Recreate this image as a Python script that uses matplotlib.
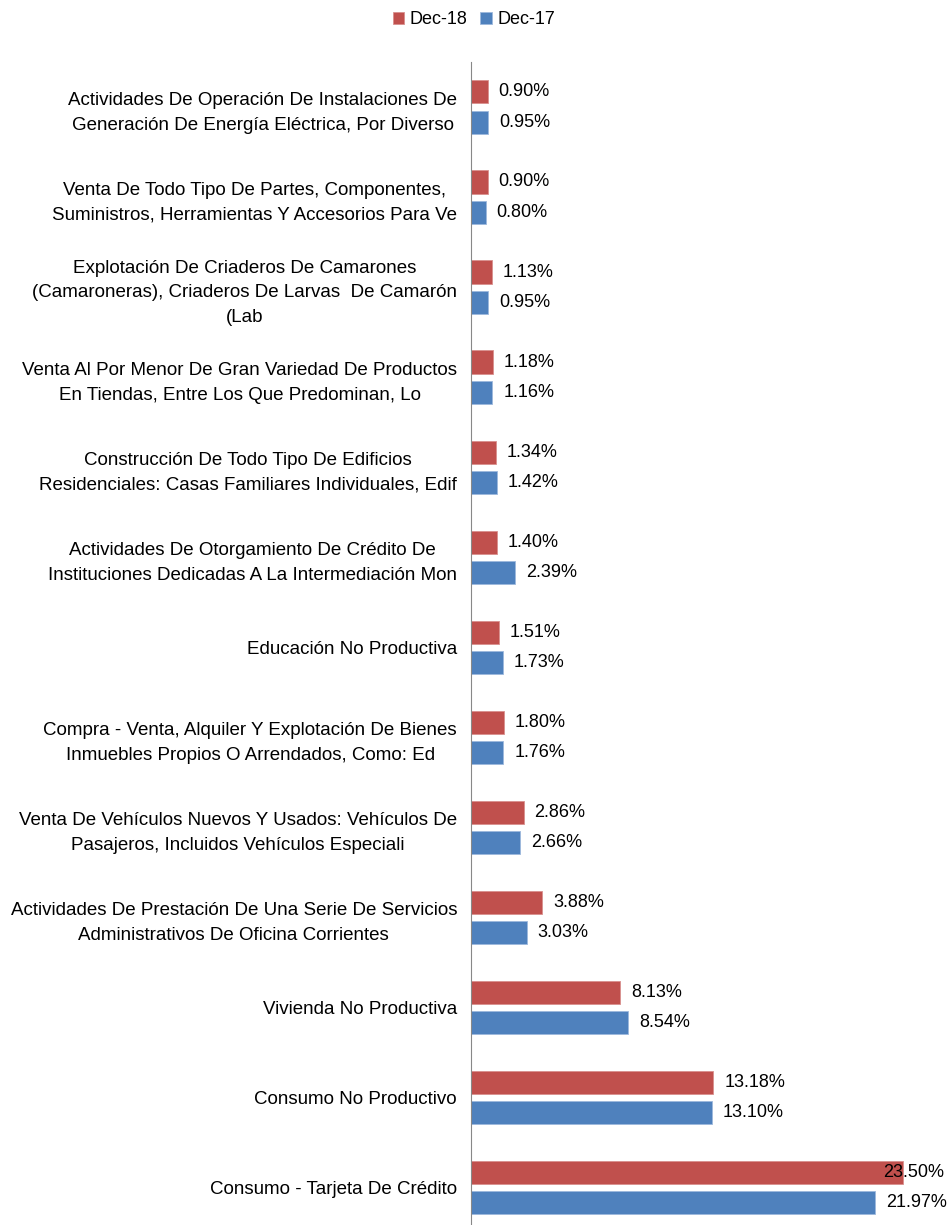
import matplotlib.pyplot as plt
import numpy as np

plt.rcParams['font.family'] = ['Liberation Sans', 'DejaVu Sans']

# categorias de arriba hacia abajo
categorias = [
    "Actividades De Operación De Instalaciones De\nGeneración De Energía Eléctrica, Por Diverso",
    "Venta De Todo Tipo De Partes, Componentes,\nSuministros, Herramientas Y Accesorios Para Ve",
    "Explotación De Criaderos De Camarones\n(Camaroneras), Criaderos De Larvas  De Camarón\n(Lab",
    "Venta Al Por Menor De Gran Variedad De Productos\nEn Tiendas, Entre Los Que Predominan, Lo",
    "Construcción De Todo Tipo De Edificios\nResidenciales: Casas Familiares Individuales, Edif",
    "Actividades De Otorgamiento De Crédito De\nInstituciones Dedicadas A La Intermediación Mon",
    "Educación No Productiva",
    "Compra - Venta, Alquiler Y Explotación De Bienes\nInmuebles Propios O Arrendados, Como: Ed",
    "Venta De Vehículos Nuevos Y Usados: Vehículos De\nPasajeros, Incluidos Vehículos Especiali",
    "Actividades De Prestación De Una Serie De Servicios\nAdministrativos De Oficina Corrientes",
    "Vivienda No Productiva",
    "Consumo No Productivo",
    "Consumo - Tarjeta De Crédito",
]
dic_18 = [0.90, 0.90, 1.13, 1.18, 1.34, 1.40, 1.51, 1.80, 2.86, 3.88, 8.13, 13.18, 23.50]
dic_17 = [0.95, 0.80, 0.95, 1.16, 1.42, 2.39, 1.73, 1.76, 2.66, 3.03, 8.54, 13.10, 21.97]
series = ["Dec-18", "Dec-17"]

rojo = '#C0504D'
azul = '#4F81BD'

fig = plt.figure(figsize=(9.47, 12.25), dpi=100)
ax = fig.add_axes([471 / 947, 0, 1 - 471 / 947, 1 - 62 / 1225])

y = np.arange(len(categorias))
h = 0.256
off = 0.167
xmax = 25.9

b1 = ax.barh(y - off, dic_18, height=h, color=rojo, edgecolor='#D9908E', linewidth=0.6, label=series[0])
b2 = ax.barh(y + off, dic_17, height=h, color=azul, edgecolor='#9DB8DC', linewidth=0.6, label=series[1])

def etiquetar(posiciones, valores):
    for yy, v in zip(posiciones, valores):
        if v + 3.5 > xmax:
            # no cabe a la derecha, se pega al borde
            ax.text(xmax - 0.15, yy, f"{v:.2f}%", va='center', ha='right', fontsize=13)
        else:
            ax.text(v + 0.6, yy, f"{v:.2f}%", va='center', ha='left', fontsize=13)

etiquetar(y - off, dic_18)
etiquetar(y + off, dic_17)

ax.set_xlim(0, xmax)
ax.set_ylim(len(categorias) - 0.5 - 0.08, -0.5)
ax.set_yticks(y)
ax.set_yticklabels(categorias, fontsize=13.5, multialignment='center', linespacing=1.6)
ax.tick_params(axis='y', length=0, pad=10)
ax.set_xticks([])
for s in ['top', 'right', 'bottom']:
    ax.spines[s].set_visible(False)
ax.spines['left'].set_color('#888888')

fig.legend(handles=[b1, b2], loc='center', bbox_to_anchor=(474 / 947, 1 - 20 / 1225),
           ncol=2, frameon=False, fontsize=13, handlelength=0.65, handleheight=0.65,
           handletextpad=0.3, columnspacing=0.7)

fig.savefig('out.png', dpi=100)
